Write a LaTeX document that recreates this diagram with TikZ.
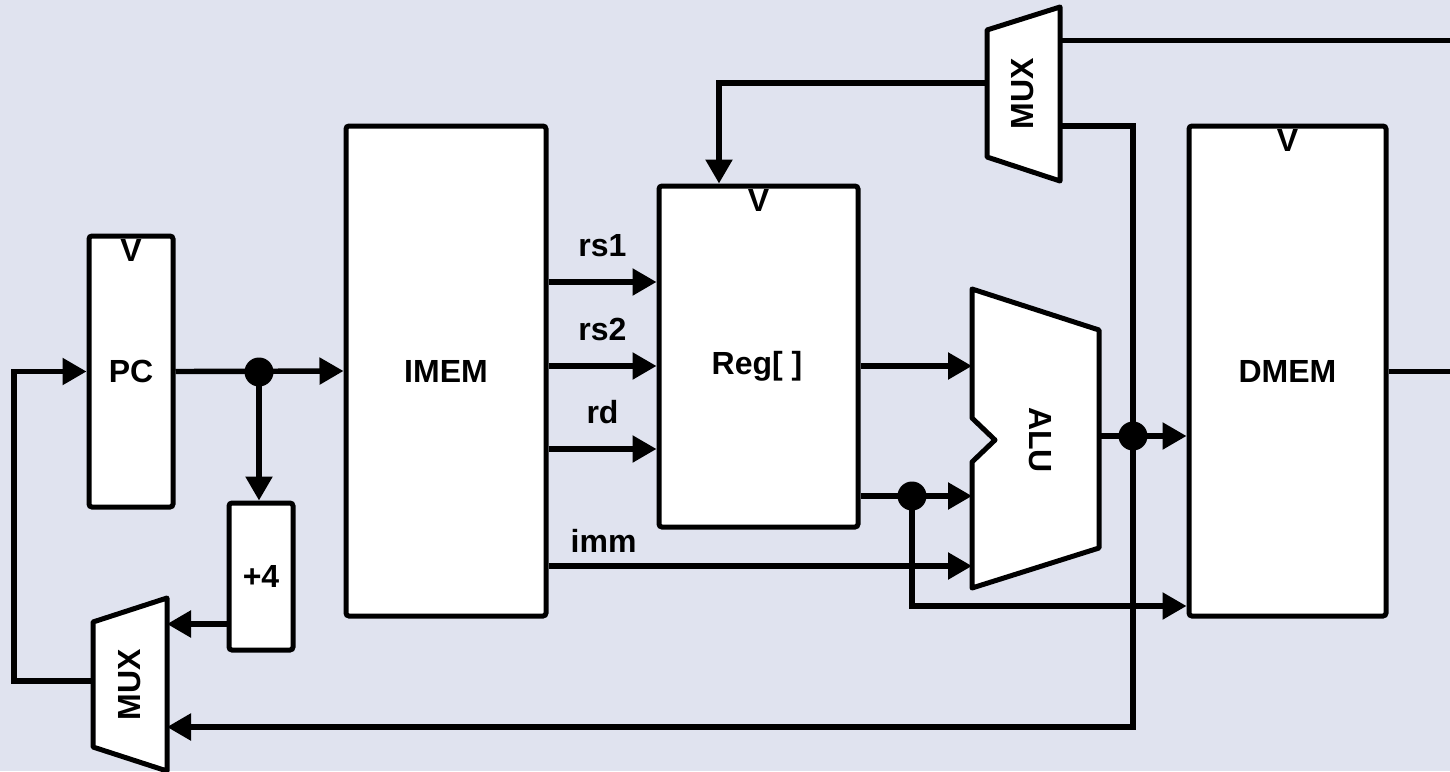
\documentclass[tikz,border=0pt]{standalone}
\usepackage{fontspec}
\setmainfont{Liberation Sans}
\usetikzlibrary{arrows.meta, positioning, calc}
\definecolor{bgcol}{RGB}{224,227,239}

\begin{document}
\begin{tikzpicture}[
        x=0.5pt, y=-0.5pt,
        font=\bfseries\fontsize{16}{19}\selectfont,
        box/.style={rectangle, draw, line width=2.5pt, rounded corners=1.5pt, fill=white, inner sep=0pt},
        clk/.style={label={[anchor=north, inner sep=0pt, yshift=-3pt]north:V}},
        unit/.style={draw, line width=2.5pt, fill=white, line join=round},
        arrow/.style={-{Triangle[length=12pt, width=13pt]}, line width=2.7pt},
        wire/.style={line width=2.5pt},
        dot/.style={circle, fill=black, inner sep=0pt, minimum size=14.5pt}
        ]

        \fill [bgcol] (0,0) rectangle (1450,771);
        \useasboundingbox (0,0) rectangle (1450,771);

        % state and memories
        \node (pc) [box, clk, minimum width=42pt, minimum height=135.5pt] at (131,371.5) {PC};
        \node (plusfour) [box, minimum width=32pt, minimum height=73.5pt] at (261,576.5) {+4};
        \node (imem) [box, minimum width=100pt, minimum height=245pt] at (446,371) {IMEM};
        \node (reg) [box, clk, minimum width=99.5pt, minimum height=170.5pt] at (758.5,356.5) {};
        \node (regtext) at (757,366) {Reg[ ]};
        \node (dmem) [box, clk, minimum width=98.5pt, minimum height=245pt] at (1287.5,371) {DMEM};

        % muxes and alu
        \draw [unit] (93,622) -- (167,598) -- (167,771) -- (93,747) -- cycle;
        \node (pcmuxtext) [rotate=90] at (130,685) {MUX};
        \coordinate (pcmux-a) at (167,624);
        \coordinate (pcmux-b) at (167,727);
        \coordinate (pcmux-out) at (93,681);

        \draw [unit] (987,30) -- (1060,7) -- (1060,181) -- (987,157) -- cycle;
        \node (wbmuxtext) [rotate=90] at (1023,94) {MUX};
        \coordinate (wbmux-a) at (1060,40);
        \coordinate (wbmux-b) at (1060,126);
        \coordinate (wbmux-out) at (987,83);

        \draw [unit] (972,289) -- (1099,330) -- (1099,548) -- (972,588) -- (972,462) -- (995,440) -- (972,418) -- cycle;
        \node (alutext) [rotate=-90] at (1040,440) {ALU};
        \coordinate (alu-a) at (972,366);
        \coordinate (alu-b) at (972,496);
        \coordinate (alu-imm) at (972,566);
        \coordinate (alu-out) at (1099,436);

        \coordinate (regwr) at (reg.north -| 719,0);
        \coordinate (edge) at (1450,40);

        % junctions
        \node (fork) [dot] at (259,372) {};
        \node (bfork) [dot] at (912,496) {};
        \node (rfork) [dot] at (1133,436) {};

        % fetch
        \draw [arrow] (pcmux-out) -- ++(-79,0) |- (pc.west);
        \draw [arrow] (pc.east) -- (imem.west);
        \draw [arrow] (fork.center) -- (fork.center |- plusfour.north);
        \draw [arrow] (pcmux-a -| plusfour.west) -- (pcmux-a);

        % decode
        \draw [arrow] (imem.east |- 0,282) -- (reg.west |- 0,282) node [midway, above=8pt] {rs1};
        \draw [arrow] (imem.east |- 0,366) -- (reg.west |- 0,366) node [midway, above=8pt] {rs2};
        \draw [arrow] (imem.east |- 0,449) -- (reg.west |- 0,449) node [midway, above=8pt] {rd};
        \draw [arrow] (imem.east |- alu-imm) -- (alu-imm) node [pos=0.13, above=2pt] {imm};

        % execute, memory, write back
        \draw [arrow] (reg.east |- alu-a) -- (alu-a);
        \draw [arrow] (reg.east |- alu-b) -- (alu-b);
        \draw [arrow] (bfork.center) |- (dmem.west |- 0,606);
        \draw [arrow] (alu-out) -- (dmem.west |- alu-out);
        \draw [arrow] (wbmux-b) -| (rfork.center) |- (pcmux-b);
        \draw [arrow] (wbmux-out) -| (regwr);
        \draw [wire] (wbmux-a) -- (edge);
        \draw [wire] (dmem.east) -- (dmem.east -| edge);
    \end{tikzpicture}
\end{document}
